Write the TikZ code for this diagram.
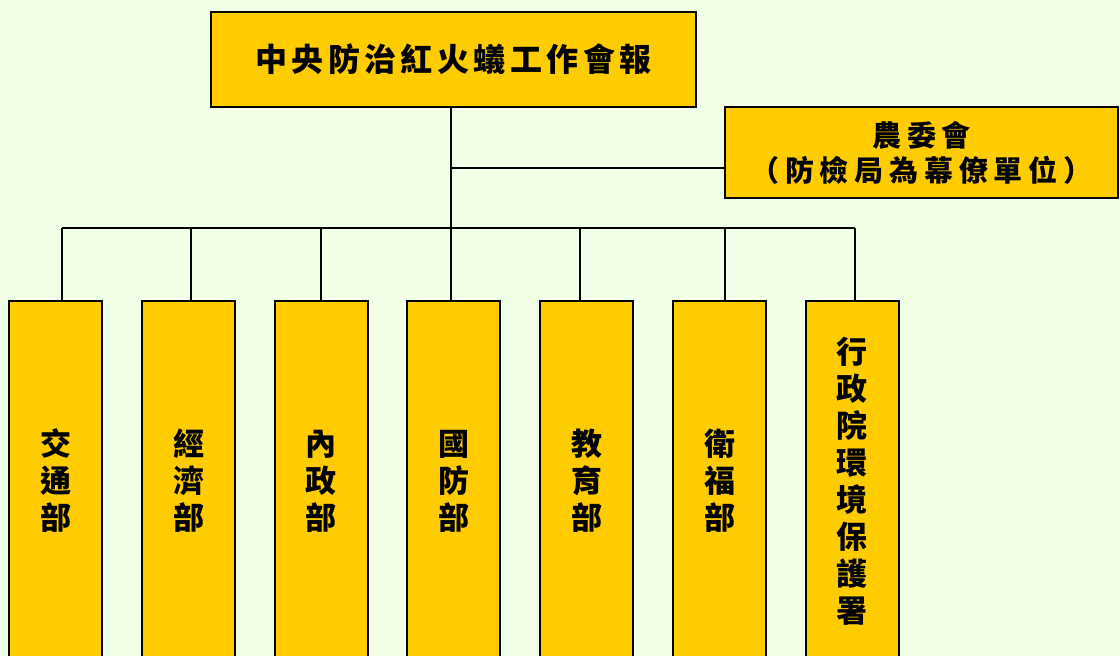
\documentclass[tikz,border=0pt]{standalone}
\usepackage{fontspec}
\newfontfamily\cjk[LetterSpace=20]{Noto Sans CJK TC}
\newfontfamily\cjkt[LetterSpace=14]{Noto Sans CJK TC}
\definecolor{bgcol}{RGB}{240,255,230}
\definecolor{boxcol}{RGB}{255,204,0}
\tikzset{
  box/.style={draw, line width=1pt, fill=boxcol, inner sep=0pt},
  dept/.style={box, minimum width=46.5pt, minimum height=180pt, align=center,
    font=\cjk\bfseries\fontsize{15.5}{18.5}\selectfont},
  link/.style={line width=0.8pt}
}
\begin{document}
\begin{tikzpicture}[x=0.5pt,y=-0.5pt]
  \fill[bgcol] (0,0) rectangle (1120,656);
  \useasboundingbox (0,0) rectangle (1120,656);
  \clip (0,0) rectangle (1120,656);
  % top and side boxes
  \node[box, minimum width=242.5pt, minimum height=47.5pt, font=\cjkt\bfseries\fontsize{16}{18}\selectfont]
    (top) at (453.5,59.5) {中央防治紅火蟻工作會報};
  \node[box, minimum width=196.5pt, minimum height=45.5pt, align=center,
    font=\cjk\bfseries\fontsize{14.5}{17.5}\selectfont]
    (coa) at (921.5,152.5) {農委會\\（防檢局為幕僚單位）};
  % departments
  \node[dept] (d1) at (55.5,481) {交\\通\\部};
  \node[dept] (d2) at (188.5,481) {經\\濟\\部};
  \node[dept] (d3) at (321,481) {內\\政\\部};
  \node[dept] (d4) at (453.5,481) {國\\防\\部};
  \node[dept] (d5) at (586.5,481) {教\\育\\部};
  \node[dept] (d6) at (719.5,481) {衛\\福\\部};
  \node[dept] (d7) at (852,481) {行\\政\\院\\環\\境\\保\\護\\署};
  % bus points
  \coordinate (side) at (451,168);
  \coordinate (b1) at (62,228);
  \coordinate (b2) at (191,228);
  \coordinate (b3) at (321,228);
  \coordinate (b4) at (451,228);
  \coordinate (b5) at (580,228);
  \coordinate (b6) at (725,228);
  \coordinate (b7) at (855,228);
  \draw[link] (b4 |- top.south) -- (b4);
  \draw[link] (side) -- (side -| coa.west);
  \draw[link] (b1) -- (b7);
  \foreach \i in {1,...,7}
    \draw[link] (b\i) -- (b\i |- d\i.north);
\end{tikzpicture}
\end{document}
